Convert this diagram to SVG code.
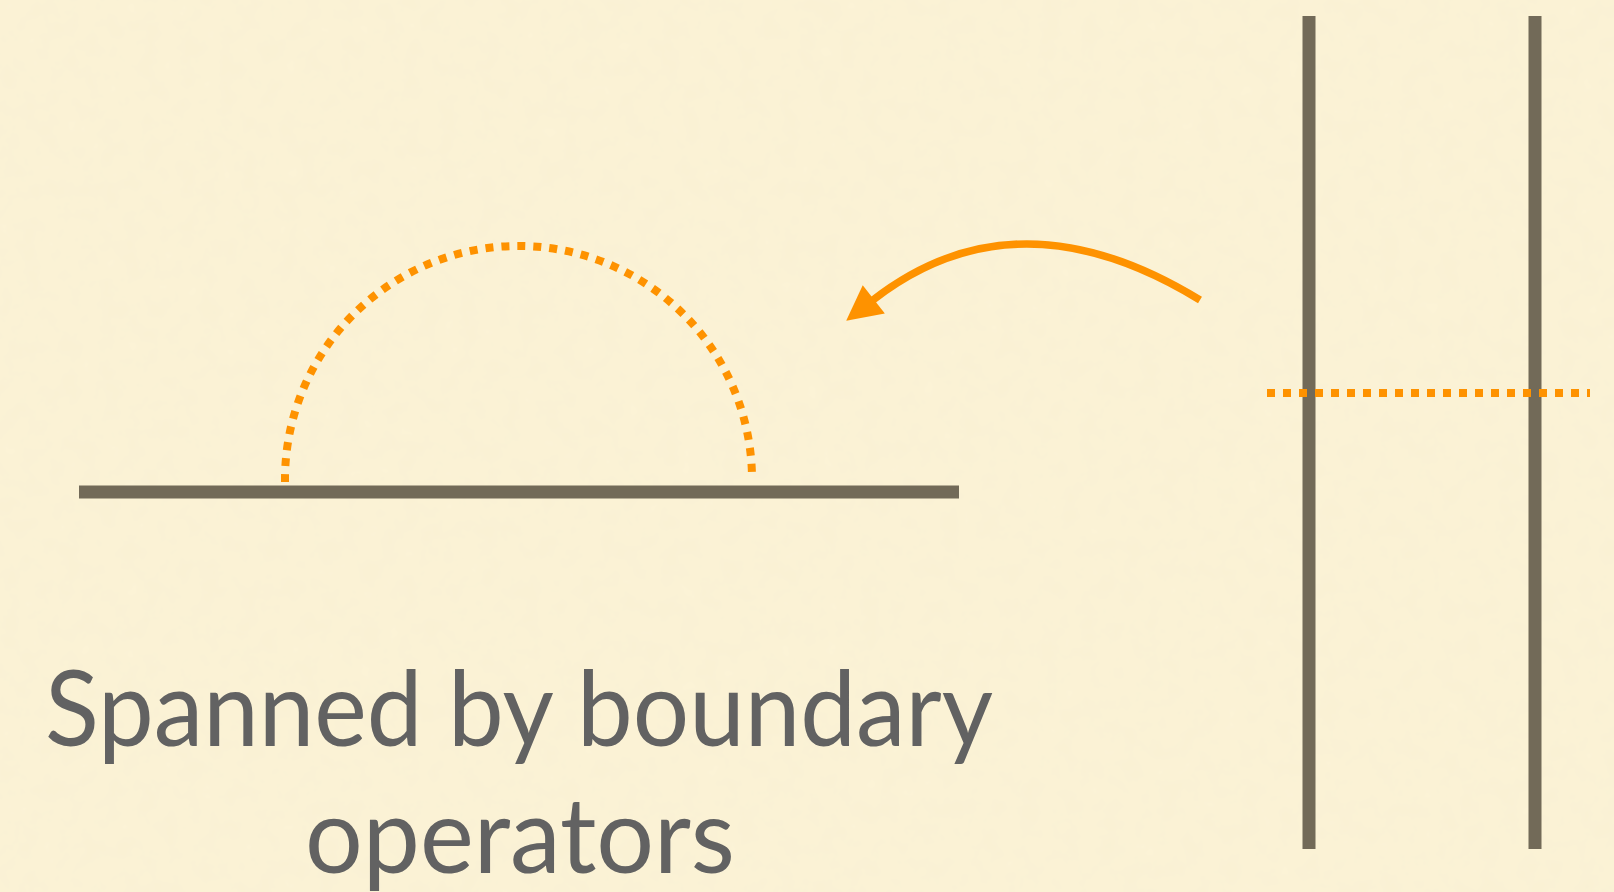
<svg xmlns="http://www.w3.org/2000/svg" width="1614" height="892" viewBox="0 0 1614 892">
  <defs>
    <style>
      .bar { stroke: #726a58; stroke-width: 13; fill: none; }
      .dots { stroke: #fe9200; stroke-width: 8; stroke-dasharray: 8 8; fill: none; }
      .arrow { stroke: #fe9200; stroke-width: 7.5; fill: none; }
      .label { font-family: "Lato", "Open Sans", "Liberation Sans", sans-serif; font-size: 104px; fill: #626262; text-anchor: middle; }
    </style>
    <marker id="head" markerUnits="userSpaceOnUse" orient="auto" refX="0" refY="0" markerWidth="40" markerHeight="40" viewBox="0 -20 40 40" overflow="visible">
      <path d="M-1,-18 L34,0 L-1,18 Z" fill="#fe9200"/>
    </marker>
    <filter id="paper" x="0" y="0" width="100%" height="100%">
      <feTurbulence type="fractalNoise" baseFrequency="0.05" numOctaves="3" seed="4" result="n"/>
      <feColorMatrix in="n" type="matrix" values="0 0 0 0 0.78  0 0 0 0 0.72  0 0 0 0 0.55  0 0 0 0.12 0"/>
    </filter>
  </defs>
  <rect width="1614" height="892" fill="#fcf3d6"/>
  <rect width="1614" height="892" filter="url(#paper)"/>

  <g id="boundary-line">
    <line class="bar" x1="79" y1="492" x2="959" y2="492"/>
  </g>
  <g id="semicircle">
    <path class="dots" d="M285,482 A233.5,233.5 0 0 1 752,477"/>
  </g>
  <g id="strip">
    <line class="bar" x1="1309" y1="16" x2="1309" y2="849"/>
    <line class="bar" x1="1535" y1="16" x2="1535" y2="849"/>
    <line class="dots" x1="1267" y1="393" x2="1590" y2="393"/>
  </g>
  <g id="connectors">
    <path class="arrow" d="M1200,300 Q1017,188 873,300" marker-end="url(#head)"/>
  </g>
  <g id="caption">
    <text class="label" x="519" y="746" textLength="948" lengthAdjust="spacingAndGlyphs">Spanned by boundary</text>
    <text class="label" x="520" y="873" textLength="430" lengthAdjust="spacingAndGlyphs">operators</text>
  </g>
</svg>
